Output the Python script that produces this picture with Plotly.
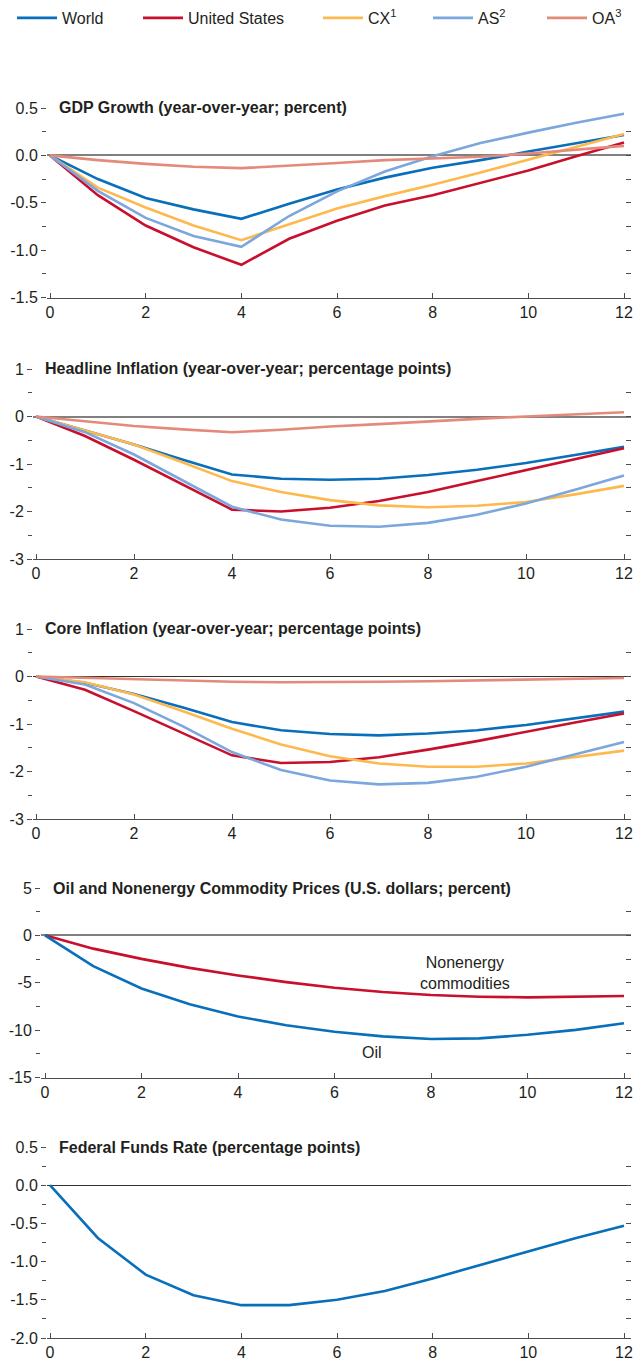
import plotly.graph_objects as go

W, H = 633, 1365
FONT = "Liberation Sans, Arial, sans-serif"
TXT = "#231f20"

months = list(range(13))
x_tick_vals = [0, 2, 4, 6, 8, 10, 12]
x_tick_text = ["0", "2", "4", "6", "8", "10", "12"]

series_names = ["World", "United States", "CX<sup>1</sup>", "AS<sup>2</sup>", "OA<sup>3</sup>"]
series_colors = ["#0a6fba", "#c8102e", "#fdb94e", "#7ba7dd", "#e48a7b"]

# Panel 1: GDP growth
gdp_world = [0, -0.25, -0.45, -0.57, -0.67, -0.51, -0.36, -0.235, -0.13, -0.05, 0.04, 0.13, 0.215]
gdp_us = [0, -0.42, -0.74, -0.97, -1.155, -0.88, -0.69, -0.53, -0.42, -0.29, -0.16, -0.01, 0.135]
gdp_cx = [0, -0.34, -0.55, -0.74, -0.895, -0.73, -0.56, -0.43, -0.31, -0.18, -0.045, 0.09, 0.225]
gdp_as = [0, -0.375, -0.66, -0.85, -0.965, -0.64, -0.38, -0.17, -0.01, 0.13, 0.24, 0.345, 0.44]
gdp_oa = [0, -0.05, -0.09, -0.12, -0.135, -0.11, -0.08, -0.05, -0.03, -0.015, 0.02, 0.06, 0.1]

# Panel 2: Headline inflation
hl_world = [0, -0.29, -0.59, -0.91, -1.22, -1.31, -1.33, -1.31, -1.23, -1.12, -0.98, -0.81, -0.64]
hl_us = [0, -0.41, -0.91, -1.43, -1.96, -2.0, -1.92, -1.78, -1.59, -1.36, -1.13, -0.9, -0.67]
hl_cx = [0, -0.3, -0.59, -0.97, -1.36, -1.59, -1.76, -1.87, -1.91, -1.88, -1.8, -1.64, -1.46]
hl_as = [0, -0.33, -0.8, -1.35, -1.9, -2.17, -2.3, -2.32, -2.24, -2.07, -1.83, -1.54, -1.24]
hl_oa = [0, -0.1, -0.2, -0.27, -0.33, -0.28, -0.21, -0.16, -0.1, -0.05, 0.0, 0.05, 0.09]

# Panel 3: Core inflation
core_world = [0, -0.13, -0.37, -0.65, -0.96, -1.13, -1.21, -1.24, -1.2, -1.13, -1.02, -0.88, -0.74]
core_us = [0, -0.28, -0.73, -1.2, -1.66, -1.82, -1.8, -1.7, -1.54, -1.36, -1.16, -0.97, -0.78]
core_cx = [0, -0.12, -0.38, -0.73, -1.1, -1.43, -1.68, -1.83, -1.9, -1.9, -1.83, -1.7, -1.56]
core_as = [0, -0.17, -0.56, -1.05, -1.59, -1.97, -2.19, -2.27, -2.24, -2.11, -1.9, -1.64, -1.38]
core_oa = [0, -0.03, -0.06, -0.09, -0.11, -0.12, -0.12, -0.11, -0.1, -0.08, -0.06, -0.04, -0.03]

# Panel 4: Commodity prices
oil = [0, -3.25, -5.6, -7.27, -8.57, -9.48, -10.17, -10.66, -10.94, -10.87, -10.49, -9.97, -9.27]
nonenergy = [0, -1.4, -2.48, -3.43, -4.23, -4.93, -5.52, -5.98, -6.29, -6.47, -6.54, -6.5, -6.4]

# Panel 5: Federal funds rate
ffr = [0, -0.69, -1.17, -1.44, -1.57, -1.57, -1.5, -1.385, -1.22, -1.04, -0.86, -0.69, -0.53]

titles = [
    "GDP Growth (year-over-year; percent)",
    "Headline Inflation (year-over-year; percentage points)",
    "Core Inflation (year-over-year; percentage points)",
    "Oil and Nonenergy Commodity Prices (U.S. dollars; percent)",
    "Federal Funds Rate (percentage points)",
]
y_ticks = [
    ([-1.5, -1.0, -0.5, 0.0, 0.5], ["-1.5", "-1.0", "-0.5", "0.0", "0.5"]),
    ([-3, -2, -1, 0, 1], ["-3", "-2", "-1", "0", "1"]),
    ([-3, -2, -1, 0, 1], ["-3", "-2", "-1", "0", "1"]),
    ([-15, -10, -5, 0, 5], ["-15", "-10", "-5", "0", "5"]),
    ([-2.0, -1.5, -1.0, -0.5, 0.0, 0.5], ["-2.0", "-1.5", "-1.0", "-0.5", "0.0", "0.5"]),
]
y_minor = [0.25, 0.5, 0.5, 2.5, 0.25]

# layout geometry (pixels): left edge, x=0 pixel, top, bottom
geom = [
    (47, 50, 108, 297.5),
    (33, 36, 369, 559),
    (33, 36, 629, 819),
    (41, 45, 888, 1077.5),
    (47, 50, 1147, 1338),
]
RIGHT = 631
X12 = 624
zero_styles = [("#808080", 1.5), ("#808080", 1.5), ("#333333", 1), ("#808080", 1.5), ("#333333", 1)]

fig = go.Figure()

panel_series = [
    [gdp_world, gdp_us, gdp_cx, gdp_as, gdp_oa],
    [hl_world, hl_us, hl_cx, hl_as, hl_oa],
    [core_world, core_us, core_cx, core_as, core_oa],
]
for p, group in enumerate(panel_series):
    ax = "" if p == 0 else str(p + 1)
    for i, ys in enumerate(group):
        fig.add_trace(go.Scatter(
            x=months, y=ys, mode="lines", name=series_names[i],
            line=dict(color=series_colors[i], width=2.6),
            xaxis="x" + ax, yaxis="y" + ax,
            showlegend=(p == 0),
            legend=("legend" if i == 0 else "legend%d" % (i + 1)),
        ))

fig.add_trace(go.Scatter(x=months, y=nonenergy, mode="lines", name="Nonenergy commodities",
                         line=dict(color=series_colors[1], width=2.6), xaxis="x4", yaxis="y4", showlegend=False))
fig.add_trace(go.Scatter(x=months, y=oil, mode="lines", name="Oil",
                         line=dict(color=series_colors[0], width=2.6), xaxis="x4", yaxis="y4", showlegend=False))
fig.add_trace(go.Scatter(x=months, y=ffr, mode="lines", name="Federal funds rate",
                         line=dict(color=series_colors[0], width=2.6), xaxis="x5", yaxis="y5", showlegend=False))

layout = dict(
    width=W, height=H, margin=dict(l=0, r=0, t=0, b=0, autoexpand=False),
    paper_bgcolor="white", plot_bgcolor="white",
    font=dict(family=FONT, size=16, color=TXT),
    hovermode=False,
)

annotations = []
for p in range(5):
    L, x0px, top, bot = geom[p]
    ppu = (X12 - x0px) / 12.0
    xr = [-(x0px - L) / ppu, 12 + (RIGHT - X12) / ppu]
    ydom = [1 - bot / H, 1 - top / H]
    xdom = [L / W, RIGHT / W]
    idx = "" if p == 0 else str(p + 1)
    yv, yt = y_ticks[p]
    yr = [yv[0], yv[-1]]
    zc, zw = zero_styles[p]
    layout["xaxis" + idx] = dict(
        domain=xdom, range=xr, anchor="y" + idx, showgrid=False, zeroline=False,
        showline=True, linecolor="#4d4d4d", linewidth=1,
        tickmode="array", tickvals=x_tick_vals, ticktext=x_tick_text,
        ticks="inside", ticklen=5, tickcolor="#4d4d4d", tickwidth=1,
        ticklabeloverflow="allow",
        tickfont=dict(family=FONT, size=16, color=TXT), fixedrange=True,
    )
    layout["yaxis" + idx] = dict(
        domain=ydom, range=yr, anchor="x" + idx, showgrid=False,
        zeroline=True, zerolinecolor=zc, zerolinewidth=zw, showline=False,
        tickmode="array", tickvals=yv, ticktext=yt,
        ticks="outside", ticklen=5, tickcolor="#4d4d4d", tickwidth=1,
        ticklabeloverflow="allow",
        minor=dict(tickmode="linear", tick0=0, dtick=y_minor[p], ticks="outside",
                   ticklen=4, tickcolor="#4d4d4d", tickwidth=1, showgrid=False),
        tickfont=dict(family=FONT, size=16, color=TXT), fixedrange=True,
    )
    ridx = str(p + 6)
    layout["yaxis" + ridx] = dict(
        overlaying="y" + idx, side="right", anchor="x" + idx, range=yr,
        showgrid=False, zeroline=False, showline=False, showticklabels=False,
        tickmode="array", tickvals=yv,
        ticks="inside", ticklen=5, tickcolor="#4d4d4d", tickwidth=1,
        minor=dict(tickmode="linear", tick0=0, dtick=y_minor[p], ticks="inside",
                   ticklen=5, tickcolor="#4d4d4d", tickwidth=1, showgrid=False),
        fixedrange=True,
    )
    fig.add_trace(go.Scatter(x=[], y=[], xaxis="x" + idx, yaxis="y" + ridx,
                             showlegend=False, hoverinfo="skip"))
    annotations.append(dict(
        text="<b>" + titles[p] + "</b>", xref="paper", yref="paper",
        x=(L + 10) / W, y=1 - top / H, xanchor="left", yanchor="middle",
        showarrow=False, font=dict(family=FONT, size=16, color=TXT),
    ))

annotations.append(dict(text="Nonenergy<br>commodities", xref="x4", yref="y4", x=8.7, y=-3.97,
                        showarrow=False, font=dict(family=FONT, size=16, color=TXT)))
annotations.append(dict(text="Oil", xref="x4", yref="y4", x=6.78, y=-12.4,
                        showarrow=False, font=dict(family=FONT, size=16, color=TXT)))
layout["annotations"] = annotations

legend_text_x = [64, 190, 370, 480, 594]
for i, tx in enumerate(legend_text_x):
    key = "legend" if i == 0 else "legend%d" % (i + 1)
    layout[key] = dict(
        orientation="h", x=(tx - 52) / W, y=1 - 18 / H, xanchor="left", yanchor="middle",
        bgcolor="rgba(0,0,0,0)", borderwidth=0, font=dict(family=FONT, size=16, color=TXT),
        itemwidth=40,
    )

fig.update_layout(**layout)
fig.write_html(
    "out.html",
    config={"displayModeBar": False, "responsive": False},
    post_script=(
        "var s=document.createElement('style');"
        "s.innerHTML='html,body{margin:0;padding:0;}';"
        "document.head.appendChild(s);document.body.style.margin='0';"
    ),
)
